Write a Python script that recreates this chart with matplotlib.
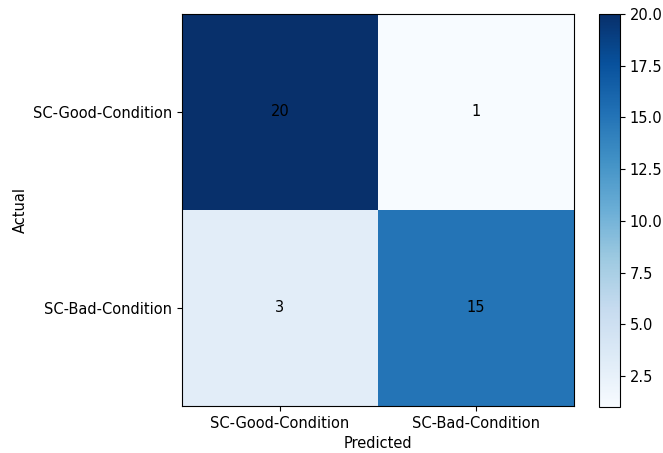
import matplotlib

matplotlib.use('Agg')

import matplotlib.pyplot as plt
import numpy as np

plt.rcParams['font.size'] = 10.5

# Матрица ошибок классификатора
labels = ['SC-Good-Condition', 'SC-Bad-Condition']
good_row = [20, 1]
bad_row = [3, 15]

W, H = 663, 453
fig = plt.figure(figsize=(W / 100, H / 100), dpi=100)

ax = fig.add_axes([182 / W, 1 - 406 / H, (574 - 182) / W, (406 - 14) / H])
cax = fig.add_axes([599 / W, 1 - 407 / H, (620 - 599) / W, (407 - 14) / H])

cm = np.array([good_row, bad_row])
im = ax.imshow(cm, cmap='Blues', aspect='auto')
fig.colorbar(im, cax=cax)

# Подписи значений в ячейках
for i in range(cm.shape[0]):
    for j in range(cm.shape[1]):
        ax.text(j, i, str(cm[i, j]), ha='center', va='center', color='black')

ax.set_xticks(range(len(labels)))
ax.set_xticklabels(labels)
ax.set_yticks(range(len(labels)))
ax.set_yticklabels(labels)
ax.set_xlabel('Predicted')
ax.set_ylabel('Actual')

fig.savefig('out.png', dpi=100)
